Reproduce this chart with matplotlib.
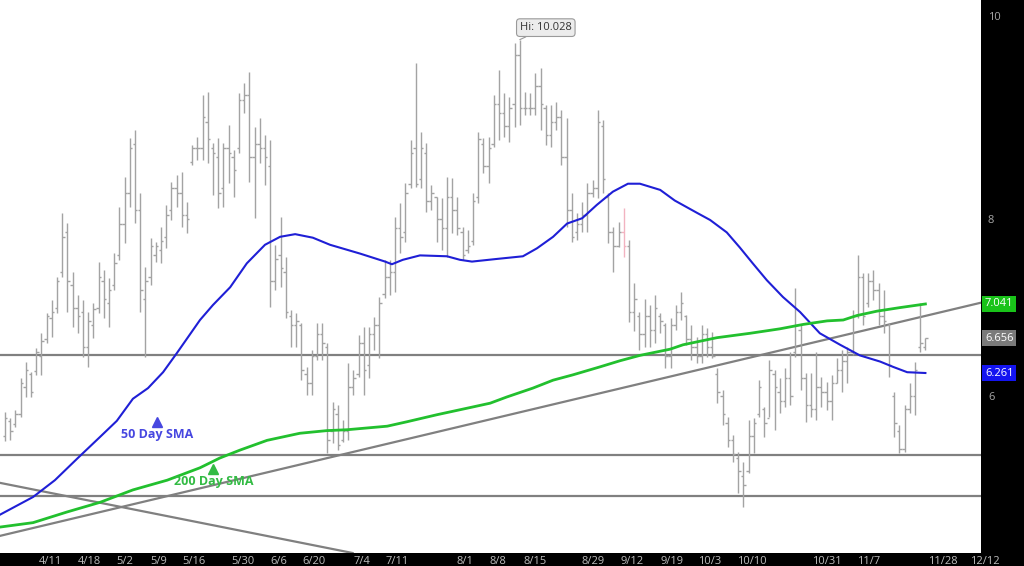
import matplotlib
matplotlib.use("Agg")
import matplotlib.pyplot as plt
import matplotlib.transforms as mtransforms

plt.rcParams['font.family'] = ['Open Sans', 'DejaVu Sans']

# daily OHLC bars
highs = [5.82, 5.75, 5.84, 6.21, 6.39, 6.27, 6.54, 6.71, 6.94, 7.09,
         7.35, 8.07, 7.96, 7.40, 7.14, 7.09, 6.95, 7.05, 7.52, 7.43,
         7.34, 7.62, 8.14, 8.48, 8.92, 9.01, 8.30, 7.46, 7.79, 7.74,
         7.91, 8.16, 8.42, 8.50, 8.53, 8.19, 8.84, 8.93, 9.40, 9.44,
         8.86, 8.92, 8.86, 9.06, 8.78, 9.43, 9.54, 9.66, 9.04, 9.14,
         8.95, 8.89, 7.71, 8.02, 7.57, 6.97, 6.94, 6.83, 6.33, 6.52,
         6.83, 6.83, 6.60, 5.93, 5.90, 5.73, 6.37, 6.30, 6.69, 6.78,
         6.78, 6.89, 7.12, 7.54, 7.54, 8.02, 8.18, 8.41, 8.89, 9.76,
         8.98, 8.86, 8.39, 8.25, 8.24, 8.48, 8.46, 8.25, 7.91, 7.88,
         8.30, 8.98, 8.92, 8.93, 9.40, 9.68, 9.43, 9.38, 9.99, 10.028,
         9.44, 9.43, 9.65, 9.71, 9.29, 9.29, 9.32, 9.23, 9.14, 8.30,
         8.07, 8.19, 8.41, 8.44, 9.23, 9.12, 8.30, 7.91, 7.97, 8.13,
         7.76, 7.28, 6.95, 7.10, 7.03, 7.14, 6.94, 6.83, 6.88, 7.03,
         7.18, 6.92, 6.80, 6.67, 6.80, 6.77, 6.72, 6.32, 6.07, 5.76,
         5.56, 5.37, 5.26, 5.73, 5.75, 6.18, 5.88, 6.41, 6.29, 6.20,
         6.32, 6.50, 7.22, 6.80, 6.26, 6.26, 6.50, 6.22, 6.16, 6.24,
         6.43, 6.52, 6.56, 6.97, 7.59, 7.39, 7.39, 7.43, 7.28, 7.20,
         6.83, 6.05, 5.67, 5.90, 6.15, 6.39, 7.05, 6.66]
lows = [5.49, 5.50, 5.65, 5.76, 5.99, 5.99, 6.24, 6.24, 6.60, 6.67,
        6.94, 7.35, 6.95, 6.78, 6.71, 6.44, 6.33, 6.66, 6.94, 6.88,
        6.78, 7.20, 7.54, 7.73, 8.14, 7.96, 6.95, 6.44, 7.26, 7.52,
        7.50, 7.67, 7.99, 8.14, 7.91, 7.84, 8.61, 8.67, 8.67, 8.63,
        8.27, 8.13, 8.14, 8.41, 8.25, 8.75, 9.20, 8.42, 8.01, 8.63,
        8.39, 7.01, 7.20, 7.23, 6.88, 6.56, 6.56, 6.18, 6.01, 6.01,
        6.41, 6.41, 5.36, 5.47, 5.39, 5.48, 5.50, 6.01, 6.22, 6.01,
        6.20, 6.52, 6.43, 7.11, 7.14, 7.18, 7.62, 7.74, 8.35, 8.36,
        8.35, 8.08, 8.10, 7.74, 7.65, 7.57, 7.84, 7.82, 7.54, 7.62,
        7.71, 8.18, 8.52, 8.41, 8.82, 8.89, 8.93, 8.87, 9.04, 9.06,
        9.18, 9.18, 9.18, 9.01, 8.84, 8.82, 9.01, 8.61, 7.91, 7.74,
        7.76, 7.85, 7.85, 8.25, 8.24, 8.30, 7.73, 7.40, 7.68, 7.57,
        6.84, 6.73, 6.52, 6.55, 6.56, 6.60, 6.71, 6.32, 6.32, 6.75,
        6.86, 6.58, 6.41, 6.37, 6.37, 6.44, 6.43, 5.92, 5.67, 5.43,
        5.26, 4.91, 4.75, 5.13, 5.36, 5.76, 5.54, 5.76, 5.62, 5.81,
        5.88, 5.90, 6.44, 6.07, 5.71, 5.76, 5.73, 5.88, 5.84, 5.73,
        6.15, 6.05, 6.15, 6.46, 6.88, 6.80, 7.01, 7.09, 6.80, 6.71,
        6.22, 5.54, 5.36, 5.37, 5.81, 5.79, 6.50, 6.52]
opens = [5.55, 5.72, 5.68, 5.80, 6.10, 6.25, 6.28, 6.45, 6.65, 6.88,
         7.00, 7.40, 7.85, 7.25, 7.00, 6.95, 6.55, 6.80, 7.00, 7.30,
         7.05, 7.25, 7.60, 7.95, 8.30, 8.85, 8.10, 7.10, 7.35, 7.60,
         7.65, 7.80, 8.10, 8.35, 8.30, 8.05, 8.65, 8.80, 8.80, 9.10,
         8.80, 8.70, 8.35, 8.80, 8.70, 8.80, 9.35, 9.40, 8.70, 8.85,
         8.80, 8.60, 7.30, 7.60, 7.40, 6.90, 6.80, 6.80, 6.25, 6.15,
         6.45, 6.70, 6.55, 5.60, 5.80, 5.50, 5.60, 6.10, 6.25, 6.60,
         6.35, 6.70, 6.80, 7.15, 7.35, 7.40, 7.90, 7.85, 8.40, 8.80,
         8.45, 8.75, 8.20, 8.25, 8.00, 7.90, 8.25, 8.10, 7.85, 7.65,
         7.75, 8.25, 8.85, 8.60, 8.85, 9.30, 9.20, 9.05, 9.30, 9.85,
         9.25, 9.25, 9.25, 9.50, 9.25, 8.95, 9.10, 9.15, 8.70, 8.10,
         7.85, 7.95, 8.05, 8.30, 8.35, 9.05, 8.25, 7.85, 7.70, 7.85,
         7.70, 6.95, 6.90, 6.70, 6.90, 6.75, 6.90, 6.80, 6.45, 6.80,
         6.95, 6.90, 6.65, 6.55, 6.45, 6.70, 6.55, 6.25, 6.00, 5.70,
         5.50, 5.30, 5.10, 5.15, 5.55, 5.80, 5.85, 5.75, 6.25, 6.05,
         5.95, 6.20, 6.50, 6.75, 6.20, 5.90, 5.85, 6.10, 6.05, 5.95,
         6.15, 6.30, 6.40, 6.50, 6.90, 7.35, 7.05, 7.30, 7.20, 6.90,
         6.80, 6.00, 5.60, 5.40, 5.85, 6.00, 6.55, 6.55]
closes = [5.75, 5.60, 5.80, 6.15, 6.30, 6.05, 6.50, 6.62, 6.90, 6.95,
          7.30, 7.80, 7.30, 7.00, 6.90, 6.55, 6.85, 6.98, 7.35, 7.10,
          7.20, 7.50, 7.95, 8.30, 8.80, 8.10, 7.20, 7.30, 7.70, 7.70,
          7.75, 8.05, 8.35, 8.30, 8.05, 8.00, 8.80, 8.80, 9.15, 8.90,
          8.75, 8.30, 8.80, 8.75, 8.55, 9.35, 9.40, 8.70, 8.85, 8.80,
          8.70, 7.30, 7.55, 7.45, 6.95, 6.80, 6.85, 6.30, 6.15, 6.45,
          6.70, 6.60, 5.50, 5.85, 5.45, 5.60, 6.10, 6.20, 6.60, 6.30,
          6.70, 6.80, 7.05, 7.35, 7.40, 7.90, 7.80, 8.30, 8.75, 8.40,
          8.80, 8.20, 8.30, 8.00, 7.90, 8.25, 8.10, 7.90, 7.60, 7.70,
          8.20, 8.90, 8.60, 8.80, 9.30, 9.20, 9.05, 9.25, 9.85, 9.25,
          9.25, 9.25, 9.50, 9.30, 8.95, 9.10, 9.15, 8.70, 8.10, 7.80,
          7.95, 8.05, 8.30, 8.35, 9.10, 8.45, 7.85, 7.70, 7.85, 7.70,
          6.95, 7.10, 6.70, 6.90, 6.75, 7.00, 6.85, 6.45, 6.80, 6.95,
          7.05, 6.65, 6.55, 6.45, 6.70, 6.55, 6.45, 6.05, 5.80, 5.50,
          5.35, 5.15, 5.00, 5.55, 5.70, 6.10, 5.70, 6.30, 6.10, 5.95,
          6.20, 6.00, 6.80, 6.20, 5.90, 5.85, 6.10, 6.05, 5.95, 6.15,
          6.30, 6.40, 6.50, 6.90, 7.35, 6.90, 7.30, 7.20, 6.90, 6.85,
          6.35, 5.70, 5.40, 5.85, 6.00, 6.30, 6.60, 6.656]
pink_bar = 119

# moving averages, points (bar number, price)
sma50_idx = [-0.96, 5.4, 9.6, 14.0, 18.3, 21.5, 24.6, 27.5, 30.4, 33.1, 37.5, 40.0,
             43.3, 46.5, 50.0, 52.9, 55.8, 59.2, 62.5, 68.3, 73.1, 74.4, 76.5, 79.8,
             85.0, 87.5, 89.8, 94.6, 99.6, 102.3, 105.4, 108.1, 111.0, 113.8, 116.9,
             119.8, 122.1, 126.0, 128.8, 133.1, 135.6, 138.8, 141.3, 143.8, 146.5,
             149.6, 152.9, 156.7, 160.6, 164.4, 168.3, 170.8, 173.5, 177.0]
sma50 = [4.66, 4.86, 5.05, 5.30, 5.54, 5.72, 5.97, 6.09, 6.27, 6.49, 6.86, 7.03,
         7.23, 7.50, 7.71, 7.80, 7.83, 7.79, 7.71, 7.61, 7.52, 7.49, 7.54, 7.59,
         7.58, 7.54, 7.52, 7.55, 7.58, 7.67, 7.80, 7.95, 8.01, 8.16, 8.31,
         8.40, 8.40, 8.33, 8.21, 8.07, 7.99, 7.85, 7.68, 7.50, 7.31,
         7.12, 6.95, 6.71, 6.58, 6.46, 6.39, 6.33, 6.27, 6.261]
sma200_idx = [-0.96, 5.4, 11.9, 18.3, 24.6, 31.2, 37.5, 41.3, 45.2, 50.4, 56.7, 61.9,
              65.8, 73.5, 77.3, 83.1, 89.4, 93.3, 96.5, 101.5, 105.4, 109.2, 114.4,
              118.3, 122.1, 127.9, 130.4, 136.9, 143.3, 149.0, 153.5, 158.1, 161.2,
              163.8, 167.7, 172.1, 177.0]
sma200 = [4.52, 4.57, 4.69, 4.80, 4.94, 5.05, 5.19, 5.30, 5.39, 5.50, 5.58, 5.61,
          5.62, 5.66, 5.71, 5.79, 5.87, 5.92, 5.99, 6.09, 6.18, 6.24, 6.33,
          6.40, 6.46, 6.53, 6.58, 6.66, 6.71, 6.76, 6.81, 6.85, 6.86,
          6.91, 6.96, 7.00, 7.041]

support_levels = [6.46, 5.335, 4.87]
rising_trend = [(-1, 4.42), (188, 7.06)]
falling_trend = [(-1, 5.02), (37.5, 4.57)]

date_labels = ['4/11', '4/18', '5/2', '5/9', '5/16', '5/30', '6/6', '6/20', '7/4', '7/11',
               '8/1', '8/8', '8/15', '8/29', '9/12', '9/19', '10/3', '10/10', '10/31',
               '11/7', '11/28']
date_pos = [8.65, 16.15, 23.1, 29.6, 36.3, 45.8, 52.7, 59.4, 68.7, 75.4, 88.5, 94.8,
            101.9, 113.1, 120.6, 128.3, 135.6, 143.7, 158.1, 166.0, 180.4]

fig = plt.figure(figsize=(10.24, 5.66), dpi=100, facecolor='black')
ax = fig.add_axes([0, 13 / 566, 981 / 1024, 553 / 566], facecolor='white')
ax.set_xlim(-5 / 5.2, 976 / 5.2)
ax.set_ylim(4.227, 10.476)
for s in ax.spines.values():
    s.set_visible(False)

# horizontal levels and trendlines
for lv in support_levels:
    ax.axhline(lv, color='#808080', lw=1.6, zorder=2)
ax.axline(rising_trend[0], rising_trend[1], color='#808080', lw=1.6, zorder=2)
ax.axline(falling_trend[0], falling_trend[1], color='#808080', lw=1.6, zorder=2)

# OHLC bars
idx = list(range(len(highs)))
cols = ['#f2b3c1' if i == pink_bar else '#a3a3a3' for i in idx]
ax.vlines(idx, lows, highs, colors=cols, lw=1.0, zorder=3)
ax.hlines(opens, [i - 0.45 for i in idx], idx, colors=cols, lw=1.0, zorder=3)
ax.hlines(closes, idx, [i + 0.45 for i in idx], colors=cols, lw=1.0, zorder=3)

ax.plot(sma50_idx, sma50, color='#1f1fd6', lw=1.5, zorder=4, solid_joinstyle='round')
ax.plot(sma200_idx, sma200, color='#22c02e', lw=2.0, zorder=4, solid_joinstyle='round')

# labels on the chart
ax.plot([29.2], [5.71], marker='^', color='#4747e0', ms=7, zorder=5)
ax.text(29.2, 5.57, '50 Day SMA', color='#4747e0', fontsize=9, fontweight='bold',
        ha='center', va='center', zorder=5)
ax.plot([40], [5.18], marker='^', color='#33bb44', ms=7, zorder=5)
ax.text(40.2, 5.03, '200 Day SMA', color='#33bb44', fontsize=9, fontweight='bold',
        ha='center', va='center', zorder=5)

ax.annotate('Hi: 10.028', xy=(99, 10.028), xytext=(26, 12), textcoords='offset pixels',
            fontsize=8, color='#333333', ha='center', va='center',
            bbox=dict(boxstyle='round,pad=0.3', fc='#ececec', ec='#9a9a9a', lw=0.8),
            arrowprops=dict(arrowstyle='-', color='#9a9a9a', lw=0.8,
                            shrinkA=0, shrinkB=0), zorder=6)

# axes ticks
ax.yaxis.tick_right()
ax.set_yticks([6, 8])
ax.set_yticklabels(['6', '8'])
ax.tick_params(axis='y', length=0, pad=5, labelsize=8, labelcolor='#a8a8a8')
ax.set_xticks(date_pos)
ax.set_xticklabels(date_labels)
ax.tick_params(axis='x', length=0, pad=2.5, labelsize=8, labelcolor='#bdbdbd')

right = mtransforms.blended_transform_factory(ax.transAxes, ax.transData)
ax.text(1.007, 10.28, '10', transform=right, fontsize=8, color='#a8a8a8',
        ha='left', va='center', clip_on=False)
bottom = mtransforms.blended_transform_factory(ax.transData, ax.transAxes)
ax.text(188.5, -0.0145, '12/12', transform=bottom, fontsize=8, color='#bdbdbd',
        ha='center', va='center', clip_on=False)

for val, txt, fc in [(sma200[-1], '7.041', '#19c319'), (closes[-1], '6.656', '#7a7a7a'),
                     (sma50[-1], '6.261', '#1414f0')]:
    ax.text(1.004, val, txt, transform=right, fontsize=8, color='white', ha='left',
            va='center', clip_on=False,
            bbox=dict(boxstyle='square,pad=0.25', fc=fc, ec='none'))

fig.savefig('out.png', dpi=100, facecolor='black')
